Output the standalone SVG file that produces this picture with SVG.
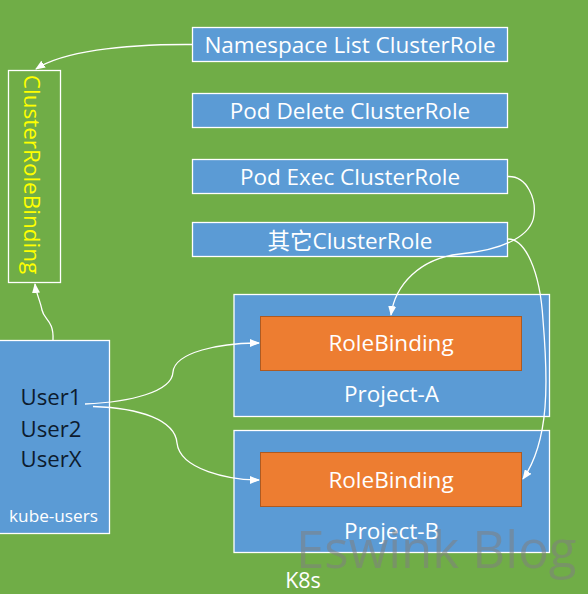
<svg xmlns="http://www.w3.org/2000/svg" width="588" height="594" viewBox="0 0 588 594">
<defs>
<marker id="ah" markerWidth="10" markerHeight="8" refX="9" refY="4" orient="auto" markerUnits="userSpaceOnUse">
<path d="M0,0 L10,4 L0,8 Z" fill="#ffffff"/>
</marker>
<style>
.box{fill:#5B9BD5;stroke:#ffffff;stroke-width:1.3}
.rb{fill:#ED7D31;stroke:#AE5A21;stroke-width:1}
.t{font-family:"Open Sans","Noto Sans","Noto Sans CJK SC",sans-serif;fill:#ffffff;text-anchor:middle;font-size:22.5px}
.u{font-family:"Open Sans","Noto Sans",sans-serif;fill:#0D1B2E;font-size:22.2px}
.c{fill:none;stroke:#ffffff;stroke-width:1.3;marker-end:url(#ah)}
</style>
</defs>
<rect width="588" height="594" fill="#70AD47"/>
<g id="ns-list">
<rect class="box" x="192.5" y="27.5" width="315" height="34"/>
<text class="t" x="350" y="52.5">Namespace List ClusterRole</text>
</g>
<g id="pod-delete">
<rect class="box" x="192.5" y="93.5" width="315" height="34"/>
<text class="t" x="350" y="118.5">Pod Delete ClusterRole</text>
</g>
<g id="pod-exec">
<rect class="box" x="192.5" y="159.5" width="315" height="34"/>
<text class="t" x="350" y="184.5">Pod Exec ClusterRole</text>
</g>
<g id="other">
<rect class="box" x="192.5" y="222.5" width="315" height="34"/>
<text class="t" x="350" y="248.5">其它ClusterRole</text>
</g>
<g id="crb">
<rect x="8.5" y="70.5" width="52" height="212" fill="none" stroke="#ffffff" stroke-width="1.3"/>
<text class="t" transform="translate(24,174.5) rotate(90)" x="0" y="0" style="fill:#FFFF00">ClusterRoleBinding</text>
</g>
<g id="kube-users">
<rect class="box" x="-2" y="340.5" width="111.5" height="193"/>
<text class="u" x="20.5" y="405">User1</text>
<text class="u" x="20.5" y="436.5">User2</text>
<text class="u" x="20.5" y="467">UserX</text>
<text class="t" x="53.5" y="522" style="font-size:17.2px">kube-users</text>
</g>
<g id="project-a">
<rect class="box" x="234" y="294.5" width="315.5" height="122"/>
<rect class="rb" x="260.5" y="316.5" width="261" height="54"/>
<text class="t" x="391" y="351">RoleBinding</text>
<text class="t" x="391.5" y="402">Project-A</text>
</g>
<g id="project-b">
<rect class="box" x="234" y="430.5" width="315.5" height="122"/>
<rect class="rb" x="260.5" y="452.5" width="261" height="54"/>
<text class="t" x="391" y="488">RoleBinding</text>
<text class="t" x="391.5" y="539">Project-B</text>
</g>
<g id="k8s">
<text class="t" x="303" y="588" style="font-size:21.5px">K8s</text>
</g>
<g id="connectors">
<path class="c" d="M192,44.5 C120,44 62,52 36,69"/>
<path class="c" d="M53,340 C54,320 44,320 42,310 C40,300 36,293 35,284"/>
<path class="c" d="M85,404 C130,402 172,392 173,372 C175,352 220,343 259,343"/>
<path class="c" d="M93,406.5 C140,408 175,420 177,443 C180,470 230,480 259,480"/>
<path class="c" d="M508,176.5 C528,176 536,200 534,215 C532,235 505,250 460,254 C420,258 395,285 391,315"/>
<path class="c" d="M508,239 C525,239 540,270 543,320 C548,380 550,440 523,479"/>
</g>
<text x="296" y="568" font-family="'Open Sans','Noto Sans',sans-serif" font-size="51" fill="#808080" fill-opacity="0.55">Eswink Blog</text>
</svg>
